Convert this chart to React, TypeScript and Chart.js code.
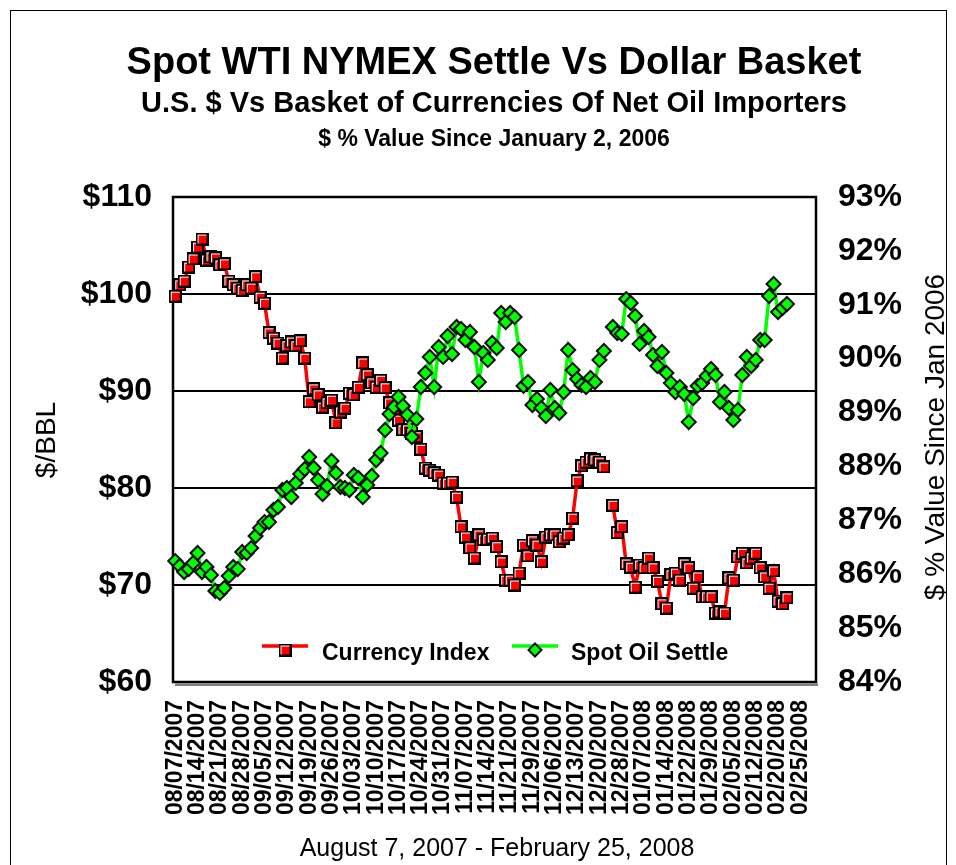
import React, { useEffect, useRef } from 'react';
import { Chart, registerables } from 'chart.js';

Chart.register(...registerables);

const FONT = "'Liberation Sans', Arial, Helvetica, sans-serif";

const titleLines = [
  'Spot WTI NYMEX Settle Vs Dollar Basket',
  'U.S. $ Vs Basket of Currencies Of Net Oil Importers',
  '$ % Value Since January 2, 2006',
];
const footerText = 'August 7, 2007 - February 25, 2008';
const leftAxisTitle = '$/BBL';
const rightAxisTitle = '$ % Value Since Jan 2006';

const tickLabels = [
  '08/07/2007', '08/14/2007', '08/21/2007', '08/28/2007', '09/05/2007', '09/12/2007',
  '09/19/2007', '09/26/2007', '10/03/2007', '10/10/2007', '10/17/2007', '10/24/2007',
  '10/31/2007', '11/07/2007', '11/14/2007', '11/21/2007', '11/29/2007', '12/06/2007',
  '12/13/2007', '12/20/2007', '12/28/2007', '01/07/2008', '01/14/2008', '01/22/2008',
  '01/29/2008', '02/05/2008', '02/12/2008', '02/20/2008', '02/25/2008',
];
const CATEGORY_COUNT = 144;
const LABEL_EVERY = 5;
const categories: string[] = Array.from({ length: CATEGORY_COUNT }, (_, i) =>
  i % LABEL_EVERY === 0 && i / LABEL_EVERY < tickLabels.length ? tickLabels[i / LABEL_EVERY] : ''
);

const oilTicks = [60, 70, 80, 90, 100, 110];
const pctTicks = [84, 85, 86, 87, 88, 89, 90, 91, 92, 93];

// Currency Index (% value since Jan 2006), right axis
const currencyIndex: (number | null)[] = [
  91.16, 91.37, 91.44, 91.70, 91.85, 92.07, 92.22, 91.83, 91.89, 91.87,
  91.74, 91.76, 91.44, 91.37, 91.31, 91.27, 91.37, 91.31, 91.52, 91.14,
  91.03, 90.48, 90.38, 90.29, 90.01, 90.24, 90.31, 90.24, 90.33, 90.01,
  89.20, 89.44, 89.33, 89.10, 89.18, 89.23, 88.81, 89.01, 89.08, 89.36,
  89.33, 89.47, 89.92, 89.70, 89.55, 89.47, 89.60, 89.46, 89.18, 88.99,
  88.86, 88.68, 88.68, 88.62, 88.55, 88.32, 87.97, 87.93, 87.88, 87.84,
  87.69, 87.69, 87.71, 87.43, 86.88, 86.69, 86.49, 86.30, 86.73, 86.64,
  86.65, 86.67, 86.51, 86.23, 85.89, 85.89, 85.80, 86.02, 86.54, 86.34,
  86.62, 86.54, 86.23, 86.69, 86.73, 86.73, 86.60, 86.67, 86.73, 87.04,
  87.73, 88.01, 88.08, 88.14, 88.12, 88.08, 87.99, null, 87.28, 86.77,
  86.88, 86.19, 86.13, 85.76, 86.17, 86.12, 86.30, 86.12, 85.87, 85.45,
  85.37, 85.99, 86.02, 85.89, 86.19, 86.12, 85.74, 85.95, 85.58, 85.58,
  85.58, 85.28, 85.30, 85.28, 85.93, 85.89, 86.32, 86.39, 86.21, 86.30,
  86.39, 86.12, 85.95, 85.74, 86.06, 85.50, 85.45, 85.56,
];

// Spot Oil Settle ($/BBL), left axis
const spotOil: (number | null)[] = [
  72.47, 71.96, 71.34, 71.65, 72.27, 73.30, 71.34, 71.86, 71.03, 69.38,
  69.18, 69.69, 70.93, 71.86, 71.65, 73.40, 73.30, 73.81, 75.05, 75.88,
  76.49, 76.49, 77.73, 78.04, 79.79, 80.00, 79.07, 80.52, 81.44, 81.96,
  83.20, 82.06, 80.82, 79.38, 80.21, 82.78, 81.55, 80.10, 80.00, 79.79,
  81.34, 81.03, 79.07, 80.31, 81.24, 82.89, 83.61, 85.98, 87.63, 88.35,
  89.38, 88.45, 87.53, 85.26, 87.11, 90.41, 91.86, 93.51, 90.41, 94.54,
  93.51, 95.67, 93.81, 96.60, 96.39, 95.26, 96.08, 94.54, 90.93, 93.92,
  93.20, 94.95, 94.43, 98.04, 97.11, 98.04, 97.63, 94.23, 90.52, 90.93,
  88.56, 89.18, 88.25, 87.42, 90.10, 88.25, 87.73, 89.90, 94.23, 92.16,
  91.24, 90.62, 90.41, 91.34, 90.93, 93.20, 94.12, null, 96.60, 95.98,
  95.88, 99.48, 99.07, 97.73, 94.85, 96.19, 95.57, 93.71, 92.58, 94.02,
  91.86, 90.82, 89.90, 90.41, 89.69, 86.80, 89.28, 90.52, 90.82, 91.55,
  92.27, 91.65, 88.87, 89.90, 88.25, 87.01, 88.04, 91.65, 93.51, 92.58,
  93.20, 95.26, 95.26, 99.79, 101.03, 98.14, 98.56, 98.97,
];

const RED = '#FF0000';
const GREEN = '#00FF00';

function makeSquare(): HTMLCanvasElement {
  const c = document.createElement('canvas');
  c.width = 13;
  c.height = 13;
  const g = c.getContext('2d')!;
  g.fillStyle = '#000';
  g.fillRect(0, 0, 13, 13);
  g.fillStyle = '#fff';
  g.fillRect(2, 2, 9, 9);
  g.fillStyle = RED;
  g.fillRect(3, 3, 8, 8);
  return c;
}

function drawDiamond(ctx: CanvasRenderingContext2D, x: number, y: number, r: number) {
  ctx.beginPath();
  ctx.moveTo(x, y - r);
  ctx.lineTo(x + r, y);
  ctx.lineTo(x, y + r);
  ctx.lineTo(x - r, y);
  ctx.closePath();
  ctx.fillStyle = GREEN;
  ctx.fill();
  ctx.lineWidth = 2;
  ctx.strokeStyle = '#111';
  ctx.stroke();
}

export default function App() {
  const ref = useRef<HTMLCanvasElement>(null);

  useEffect(() => {
    const canvas = ref.current;
    if (!canvas) return;
    const square = makeSquare();

    const decor = {
      id: 'decor',
      beforeDraw(chart: any) {
        const ctx: CanvasRenderingContext2D = chart.ctx;
        ctx.save();
        ctx.fillStyle = '#fff';
        ctx.fillRect(0, 0, chart.width, chart.height);
        ctx.strokeStyle = '#000';
        ctx.lineWidth = 1;
        ctx.strokeRect(10.5, 10.5, 936, 900);

        ctx.fillStyle = '#000';
        ctx.textAlign = 'center';
        ctx.textBaseline = 'middle';
        ctx.font = `bold 38px ${FONT}`;
        ctx.fillText(titleLines[0], 494, 64);
        ctx.font = `bold 29px ${FONT}`;
        ctx.fillText(titleLines[1], 494, 104);
        ctx.font = `bold 23px ${FONT}`;
        ctx.fillText(titleLines[2], 494, 140);
        ctx.font = `25px ${FONT}`;
        ctx.fillText(footerText, 497, 849);

        ctx.font = `28px ${FONT}`;
        ctx.save();
        ctx.translate(47, 440);
        ctx.rotate(-Math.PI / 2);
        ctx.fillText(leftAxisTitle, 0, 0);
        ctx.restore();
        ctx.save();
        ctx.translate(936, 437);
        ctx.rotate(-Math.PI / 2);
        ctx.fillText(rightAxisTitle, 0, 0);
        ctx.restore();
        ctx.restore();
      },
      beforeDatasetsDraw(chart: any) {
        const ctx: CanvasRenderingContext2D = chart.ctx;
        const a = chart.chartArea;
        ctx.save();
        ctx.fillStyle = '#808080';
        ctx.fillRect(a.left + 2, a.bottom + 1.5, a.right - a.left, 2.5);
        ctx.strokeStyle = '#000';
        ctx.lineWidth = 2.5;
        ctx.strokeRect(a.left, a.top, a.right - a.left, a.bottom - a.top);
        ctx.restore();
      },
      afterDatasetsDraw(chart: any) {
        const ctx: CanvasRenderingContext2D = chart.ctx;
        const ds = chart.data.datasets;
        ctx.save();
        ctx.lineWidth = 3.5;
        ctx.strokeStyle = RED;
        ctx.beginPath();
        ctx.moveTo(262, 646);
        ctx.lineTo(308, 646);
        ctx.stroke();
        ctx.drawImage(square, 285 - 6.5, 650 - 6.5);
        ctx.strokeStyle = GREEN;
        ctx.lineWidth = 3.5;
        ctx.beginPath();
        ctx.moveTo(512, 646);
        ctx.lineTo(558, 646);
        ctx.stroke();
        drawDiamond(ctx, 535, 650, 6.5);
        ctx.fillStyle = '#000';
        ctx.font = `bold 23px ${FONT}`;
        ctx.textAlign = 'left';
        ctx.textBaseline = 'middle';
        ctx.fillText(ds[0].label, 322, 654);
        ctx.fillText(ds[1].label, 571, 654);
        ctx.restore();
      },
    };

    const chart = new Chart(canvas, {
      type: 'line',
      data: {
        labels: categories,
        datasets: [
          {
            label: 'Currency Index',
            data: currencyIndex,
            yAxisID: 'y1',
            borderColor: RED,
            backgroundColor: RED,
            borderWidth: 3.5,
            pointStyle: square as any,
            pointRadius: 7,
            tension: 0,
            spanGaps: false,
            order: 2,
          },
          {
            label: 'Spot Oil Settle',
            data: spotOil,
            yAxisID: 'y',
            borderColor: GREEN,
            backgroundColor: GREEN,
            borderWidth: 3.5,
            pointStyle: 'rectRot',
            pointRadius: 7,
            pointBackgroundColor: GREEN,
            pointBorderColor: '#111',
            pointBorderWidth: 2,
            tension: 0,
            spanGaps: false,
            order: 1,
          },
        ],
      },
      options: {
        responsive: false,
        animation: false,
        devicePixelRatio: 1,
        layout: { padding: { top: 197, left: 0, right: 0, bottom: 0 } },
        plugins: {
          legend: { display: false },
          title: { display: false },
          tooltip: { enabled: false },
        },
        scales: {
          x: {
            type: 'category',
            offset: true,
            grid: { display: false, drawTicks: false },
            border: { display: false },
            afterFit: (s: any) => {
              s.height = 865 - 682;
            },
            ticks: {
              autoSkip: false,
              minRotation: 90,
              maxRotation: 90,
              padding: 18,
              color: '#000',
              font: { family: FONT, size: 23, weight: 'bold' },
            },
          },
          y: {
            position: 'left',
            min: 60,
            max: 110,
            afterBuildTicks: (s: any) => {
              s.ticks = oilTicks.map((v) => ({ value: v }));
            },
            afterFit: (s: any) => {
              s.width = 173;
            },
            grid: { color: '#000', lineWidth: 2, drawTicks: false },
            border: { display: false },
            ticks: {
              padding: 21,
              color: '#000',
              font: { family: FONT, size: 32, weight: 'bold' },
              callback: (v: any) => '$' + v,
            },
          },
          y1: {
            position: 'right',
            min: 84,
            max: 93,
            afterBuildTicks: (s: any) => {
              s.ticks = pctTicks.map((v) => ({ value: v }));
            },
            afterFit: (s: any) => {
              s.width = 956 - 816;
            },
            grid: { display: false, drawTicks: false },
            border: { display: false },
            ticks: {
              padding: 22,
              color: '#000',
              font: { family: FONT, size: 32, weight: 'bold' },
              callback: (v: any) => v + '%',
            },
          },
        },
      },
      plugins: [decor],
    } as any);

    return () => chart.destroy();
  }, []);

  return (
    <canvas
      ref={ref}
      width={956}
      height={865}
      style={{ position: 'fixed', left: 0, top: 0, width: 956, height: 865, display: 'block' }}
    />
  );
}
